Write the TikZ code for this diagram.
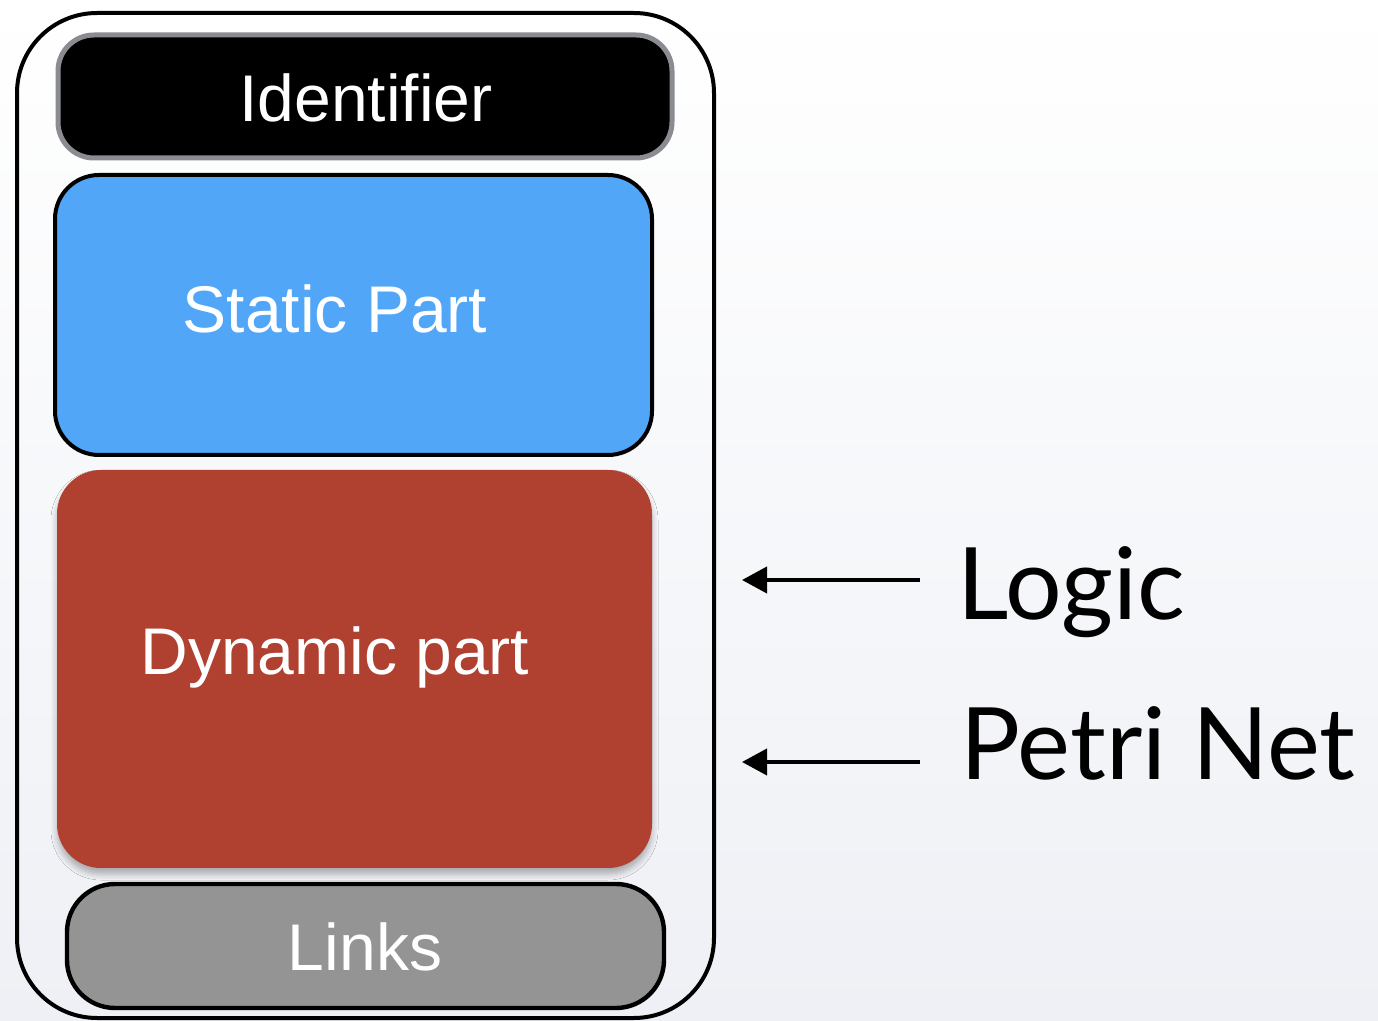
\documentclass[tikz,border=0pt]{standalone}
\usepackage{fontspec}
\setmainfont{Liberation Sans}
\newfontfamily\labelfont{Lato}
\usetikzlibrary{arrows.meta,shadows.blur}

\definecolor{bgbottom}{RGB}{238,240,245}
\definecolor{idborder}{RGB}{138,140,145}
\definecolor{staticblue}{RGB}{82,166,248}
\definecolor{dynred}{RGB}{176,64,48}
\definecolor{linksgray}{RGB}{148,148,148}

\tikzset{
  part/.style={rectangle, inner sep=0pt},
  boxtext/.style={text=white, font=\fontsize{33}{40}\selectfont, inner sep=0pt, anchor=base},
  sidetext/.style={font=\labelfont\fontsize{50}{60}\selectfont, inner sep=0pt, anchor=base west},
  pointer/.style={line width=2pt, -{Triangle[length=12.5pt,width=13pt]}}
}

\begin{document}
\begin{tikzpicture}[x=0.5pt,y=-0.5pt]
  % page and soft background
  \useasboundingbox (0,0) rectangle (1378,1021);
  \fill[top color=white, bottom color=bgbottom] (0,0) rectangle (1378,1021);

  % outer container
  \node[part, draw=black, line width=2pt, rounded corners=40pt,
        minimum width=348.5pt, minimum height=502.5pt] (frame) at (365.5,515.5) {};

  % the four parts
  \node[part, fill=black, draw=idborder, line width=2.5pt, rounded corners=18pt,
        minimum width=307pt, minimum height=61.5pt] (ident) at (365,96.5) {};
  \node[part, fill=staticblue, draw=black, line width=2pt, rounded corners=22pt,
        minimum width=298.5pt, minimum height=140pt] (static) at (353.5,315) {};
  \node[part, fill=dynred, rounded corners=22pt,
        blur shadow={shadow xshift=0pt, shadow yshift=-3pt, shadow blur radius=3pt,
                     shadow blur steps=6, shadow opacity=30},
        minimum width=297.5pt, minimum height=199pt] (dynamic) at (354.5,669) {};
  \node[part, fill=linksgray, draw=black, line width=2.2pt, rounded corners=24pt,
        minimum width=298.5pt, minimum height=62pt] (links) at (365.5,946) {};

  % part titles
  \node[boxtext] (identtext) at (366,122) {Identifier};
  \node[boxtext] (statictext) at (335,333) {Static Part};
  \node[boxtext] (dynamictext) at (335,675) {Dynamic part};
  \node[boxtext] (linkstext) at (365,970) {Links};

  % side labels pointing at the dynamic part
  \node[sidetext] (logic) at (957,620) {Logic};
  \node[sidetext] (petri) at (960,780) {Petri Net};
  \coordinate (logictip) at (742,580);
  \coordinate (petritip) at (742,762);
  \draw[pointer] (logic.west |- logictip) ++(-37,0) -- (logictip);
  \draw[pointer] (petri.west |- petritip) ++(-40,0) -- (petritip);
\end{tikzpicture}
\end{document}
